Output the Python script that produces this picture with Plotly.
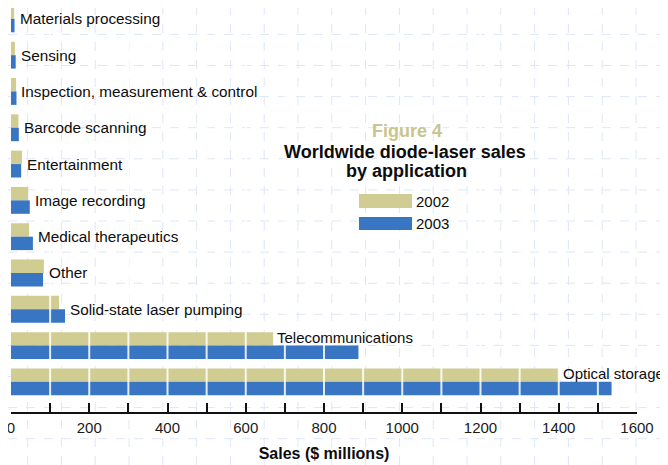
import plotly.graph_objects as go

# ---- data ----
categories = ["Materials processing", "Sensing", "Inspection, measurement & control",
              "Barcode scanning", "Entertainment", "Image recording",
              "Medical therapeutics", "Other", "Solid-state laser pumping",
              "Telecommunications", "Optical storage"]
sales_2002 = [8, 10, 13, 19, 28, 44, 46, 84, 123, 670, 1400]
sales_2003 = [9, 12, 14, 20, 26, 48, 56, 82, 138, 888, 1535]
series_names = ["2002", "2003"]
tick_values = list(range(0, 1700, 100))
tick_labels = [str(v) if v % 200 == 0 else "" for v in tick_values]

KHAKI = "#D0CC92"
BLUE = "#3876C3"
FONT = "Liberation Sans, Arial, Helvetica, sans-serif"

OFF = 8  # page body margin
W, H = 668 - OFF, 465 - OFF
ML, MR, MT, MB = 3, 31, 0, 53
PW, PH = W - ML - MR, H - MT - MB
ROW = 36.3  # pixels per category row
Y_BOTTOM = 10.83
Y_TOP = Y_BOTTOM - PH / ROW


def px(x):  # reference-window pixel -> paper
    return (x - OFF - ML) / PW


def py(y):
    return (H - MB - (y - OFF)) / PH


fig = go.Figure()
fig.add_trace(go.Bar(y=categories, x=sales_2002, orientation="h", name=series_names[0],
                     marker=dict(color=KHAKI, line=dict(width=0))))
fig.add_trace(go.Bar(y=categories, x=sales_2003, orientation="h", name=series_names[1],
                     marker=dict(color=BLUE, line=dict(width=0))))

annotations = []
# category labels
for c, a, b in zip(categories, sales_2002, sales_2003):
    if b - a > 100:
        annotations.append(dict(x=a, y=c, xref="x", yref="y", text=c, showarrow=False,
                                xanchor="left", yanchor="middle", xshift=2, yshift=8,
                                font=dict(family=FONT, size=15, color="#0d0d0d")))
    else:
        annotations.append(dict(x=max(a, b), y=c, xref="x", yref="y", text=c, showarrow=False,
                                xanchor="left", yanchor="middle", xshift=3,
                                font=dict(family=FONT, size=15.3, color="#0d0d0d")))

# title block
annotations.append(dict(x=px(407), y=py(131), xref="paper", yref="paper", text="<b>Figure 4</b>",
                        showarrow=False, xanchor="center", yanchor="middle",
                        font=dict(family=FONT, size=18, color="#C9C58E")))
annotations.append(dict(x=px(405), y=py(152), xref="paper", yref="paper",
                        text="<b>Worldwide diode-laser sales</b>",
                        showarrow=False, xanchor="center", yanchor="middle",
                        font=dict(family=FONT, size=18, color="#0d0d0d")))
annotations.append(dict(x=px(406), y=py(171), xref="paper", yref="paper",
                        text="<b>by application</b>",
                        showarrow=False, xanchor="center", yanchor="middle",
                        font=dict(family=FONT, size=18, color="#0d0d0d")))

shapes = []
# faint dashed background grid (paper texture)
for k in range(19):
    xv = 27.6 + 33.8 * k
    shapes.append(dict(type="line", xref="paper", yref="paper", x0=px(xv), x1=px(xv),
                       y0=py(465), y1=py(OFF), layer="below",
                       line=dict(color="#DEE6F6", width=1, dash="dash")))
for k in range(15):
    yv = 3.3 + 31.1 * k
    if yv < OFF:
        continue
    shapes.append(dict(type="line", xref="paper", yref="paper", x0=px(OFF), x1=px(668),
                       y0=py(yv), y1=py(yv), layer="below",
                       line=dict(color="#DEE6F6", width=1, dash="dash")))

# white grid lines over bars
for v in tick_values[1:-1]:
    shapes.append(dict(type="line", xref="x", yref="paper", x0=v, x1=v,
                       y0=py(402), y1=1, layer="above",
                       line=dict(color="rgba(255,255,255,0.85)", width=2)))

# legend
for name, color, ytop, ybot, ytext in [(series_names[0], KHAKI, 194, 208, 201),
                                       (series_names[1], BLUE, 217, 230, 223)]:
    shapes.append(dict(type="rect", xref="paper", yref="paper", x0=px(359), x1=px(412),
                       y0=py(ybot), y1=py(ytop), fillcolor=color, line=dict(width=0)))
    annotations.append(dict(x=px(414), y=py(ytext), xref="paper", yref="paper", text=name,
                            showarrow=False, xanchor="left", yanchor="middle",
                            font=dict(family=FONT, size=15, color="#0d0d0d")))

fig.update_layout(
    width=W, height=H,
    margin=dict(l=ML, r=MR, t=MT, b=MB),
    paper_bgcolor="white", plot_bgcolor="rgba(0,0,0,0)",
    barmode="group", bargap=0.26, bargroupgap=0,
    showlegend=False,
    annotations=annotations, shapes=shapes,
    xaxis=dict(range=[0, 1600], tickvals=tick_values, ticktext=tick_labels,
               ticks="inside", ticklen=9, tickwidth=2, tickcolor="#111111",
               showline=True, linecolor="#111111", linewidth=2,
               showgrid=False, zeroline=False, fixedrange=True,
               tickfont=dict(family=FONT, size=15, color="#1a1a1a"),
               ticklabelstandoff=1, ticklabeloverflow="allow",
               title=dict(text="<b>Sales ($ millions)</b>", standoff=13,
                          font=dict(family=FONT, size=16, color="#0d0d0d"))),
    yaxis=dict(type="category", categoryorder="array", categoryarray=categories,
               range=[Y_BOTTOM, Y_TOP], showticklabels=False, showgrid=False,
               zeroline=False, showline=False, ticks=""),
)

fig.write_html("out.html")
